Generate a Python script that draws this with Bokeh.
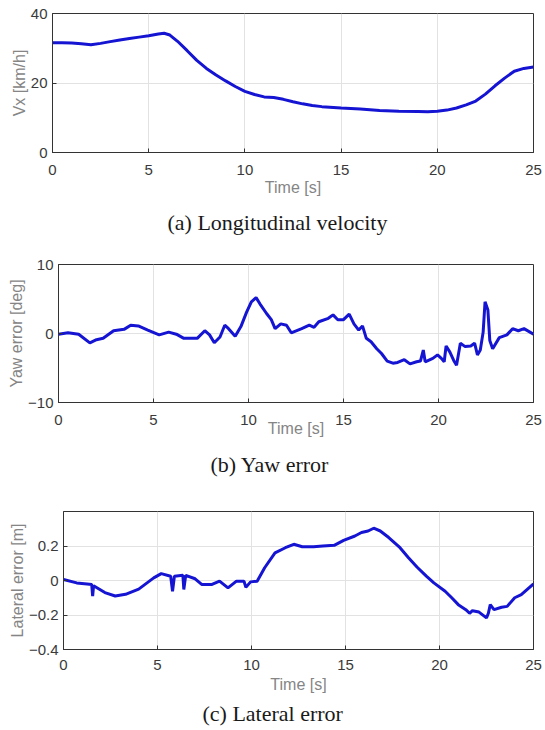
from bokeh.plotting import figure
from bokeh.layouts import column
from bokeh.models import Title, FixedTicker, Range1d
from bokeh.embed import file_html
from bokeh.resources import INLINE

# ---------------- data ----------------
x_ticks = [0, 5, 10, 15, 20, 25]

# (a) Longitudinal velocity [km/h]
t_vx = [0, 0.5, 1, 1.5, 2, 2.5, 3, 3.5, 4, 4.5, 5, 5.5, 5.8, 6.1, 6.5, 7, 7.5, 8,
        8.5, 9, 9.5, 10, 10.5, 11, 11.5, 12, 12.5, 13, 13.5, 14, 15, 16, 17, 18,
        19, 19.5, 20, 20.5, 21, 21.5, 22, 22.5, 23, 23.5, 24, 24.5, 25]
vx = [31.6, 31.6, 31.5, 31.3, 31.0, 31.4, 31.9, 32.4, 32.8, 33.2, 33.6, 34.1,
      34.3, 33.8, 32.0, 29.3, 26.5, 24.2, 22.3, 20.6, 19.0, 17.6, 16.7, 16.0,
      15.8, 15.3, 14.6, 14.0, 13.5, 13.2, 12.8, 12.5, 12.1, 11.9, 11.8, 11.7,
      11.9, 12.2, 12.8, 13.7, 14.8, 16.8, 19.2, 21.4, 23.4, 24.2, 24.6]
vx_ticks = [0, 20, 40]

# (b) Yaw error [deg]
t_yaw = [0, 0.5, 1.06, 1.65, 2.0, 2.35, 2.9, 3.45, 3.8, 4.2, 4.7, 5.3, 5.8, 6.2,
         6.6, 7.3, 7.7, 7.95, 8.2, 8.5, 8.75, 8.95, 9.3, 9.6, 9.9, 10.15, 10.4,
         10.6, 10.95, 11.2, 11.4, 11.7, 12.0, 12.25, 12.8, 13.2, 13.45, 13.7,
         14.2, 14.45, 14.7, 15.0, 15.3, 15.55, 15.8, 16.0, 16.2, 16.45, 16.75,
         17.0, 17.3, 17.6, 17.85, 18.2, 18.5, 18.85, 19.05, 19.2, 19.3, 19.7,
         19.95, 20.15, 20.3, 20.4, 20.6, 20.8, 20.95, 21.15, 21.4, 21.7, 21.9,
         22.05, 22.2, 22.35, 22.45, 22.6, 22.7, 22.85, 23.2, 23.6, 23.9, 24.2,
         24.5, 25.0]
yaw = [-0.1, 0.1, -0.1, -1.35, -0.9, -0.7, 0.4, 0.6, 1.2, 1.1, 0.5, -0.2, 0.2,
       -0.1, -0.7, -0.7, 0.4, -0.2, -1.35, -0.5, 1.2, 0.7, -0.4, 1.0, 3.1, 4.6,
       5.2, 4.3, 2.9, 2.0, 0.7, 1.4, 1.2, 0.1, 0.7, 1.2, 0.9, 1.7, 2.2, 2.7,
       2.0, 2.0, 2.8, 1.4, 0.5, 1.1, -0.7, -1.2, -2.2, -2.9, -4.0, -4.3, -4.2,
       -3.8, -4.4, -4.1, -4.0, -2.4, -4.1, -3.6, -3.1, -3.6, -4.1, -1.8, -2.7,
       -3.9, -4.6, -1.4, -1.9, -1.8, -1.4, -3.1, -2.4, 0.2, 4.6, 3.4, -1.0,
       -2.2, -0.6, -0.2, 0.7, 0.4, 0.7, -0.1]
yaw_ticks = [-10, 0, 10]

# (c) Lateral error [m]
t_lat = [0, 0.7, 1.25, 1.5, 1.55, 1.6, 2.2, 2.75, 3.3, 4.0, 4.8, 5.2, 5.7, 5.8,
         5.9, 6.35, 6.4, 6.5, 7.0, 7.35, 7.9, 8.3, 8.75, 9.2, 9.6, 9.7, 9.95,
         10.3, 10.7, 11.25, 11.8, 12.25, 12.7, 13.3, 13.8, 14.4, 14.9, 15.5,
         15.85, 16.2, 16.5, 16.85, 17.3, 17.9, 18.35, 18.8, 19.3, 19.7, 20.3,
         20.65, 21.0, 21.4, 21.6, 21.75, 22.1, 22.5, 22.6, 22.7, 22.9, 23.3,
         23.6, 24.0, 24.35, 25.0]
lat = [0.006, -0.014, -0.02, -0.023, -0.09, -0.03, -0.07, -0.09, -0.08, -0.05,
       0.015, 0.04, 0.025, -0.062, 0.025, 0.03, -0.052, 0.03, 0.01, -0.023,
       -0.023, -0.004, -0.043, -0.004, -0.004, -0.04, -0.008, -0.004, 0.074,
       0.16, 0.19, 0.21, 0.196, 0.196, 0.2, 0.204, 0.233, 0.258, 0.278, 0.287,
       0.303, 0.287, 0.249, 0.19, 0.132, 0.078, 0.025, -0.014, -0.062, -0.1,
       -0.14, -0.169, -0.19, -0.175, -0.183, -0.217, -0.19, -0.14, -0.169,
       -0.155, -0.15, -0.10, -0.082, -0.02]
lat_ticks = [-0.4, -0.2, 0, 0.2]

# ---------------- styling ----------------
LINE = "#1414d2"
TICK_COL = "#3a3a3a"
LABEL_COL = "#858585"
GRID_COL = "#e2e2e2"
FRAME_COL = "#333333"


def panel(t, y, ylo, yhi, yticks, ylabel, caption, cap_offset,
          fw, fh, bl, bt, bb, xt_standoff, xl_standoff, cap_standoff):
    p = figure(frame_width=fw, frame_height=fh,
               x_range=Range1d(0, 25), y_range=Range1d(ylo, yhi),
               output_backend="svg", toolbar_location=None,
               min_border_left=bl, min_border_right=12,
               min_border_top=bt, min_border_bottom=bb,
               outline_line_color=FRAME_COL, outline_line_width=1,
               frame_align=False)
    p.line(t, y, line_color=LINE, line_width=3)
    xt = FixedTicker(ticks=x_ticks)
    yt = FixedTicker(ticks=yticks)
    p.xaxis.ticker = xt
    p.yaxis.ticker = yt
    p.xgrid.ticker = xt
    p.ygrid.ticker = yt
    p.grid.grid_line_color = GRID_COL
    p.grid.grid_line_width = 1
    for ax in (p.xaxis[0], p.yaxis[0]):
        ax.major_tick_in = 4
        ax.major_tick_out = 0
        ax.minor_tick_line_color = None
        ax.major_tick_line_color = FRAME_COL
        ax.axis_line_color = FRAME_COL
        ax.major_label_text_font = "Liberation Sans"
        ax.major_label_text_font_size = "15px"
        ax.major_label_text_color = TICK_COL
        ax.axis_label_text_font = "Liberation Sans"
        ax.axis_label_text_font_style = "normal"
        ax.axis_label_text_color = LABEL_COL
        ax.axis_label_text_font_size = "16px"
    p.xaxis.major_label_standoff = xt_standoff
    p.xaxis.axis_label = "Time [s]"
    p.xaxis.axis_label_standoff = xl_standoff
    p.yaxis.major_label_standoff = 5
    p.yaxis.axis_label = ylabel
    p.yaxis.axis_label_standoff = 0
    cap = Title(text=caption, align="left", offset=cap_offset,
                text_font="Liberation Serif", text_font_size="22px",
                text_font_style="normal", text_color="#1a1a1a",
                standoff=cap_standoff)
    p.add_layout(cap, "below")
    return p


p1 = panel(t_vx, vx, 0, 40, vx_ticks, "Vx [km/h]",
           "(a) Longitudinal velocity", 167 - 52,
           481, 139, 52, 13, 97, 12, 1, 19)
p2 = panel(t_yaw, yaw, -10, 10, yaw_ticks, "Yaw error [deg]",
           "(b) Yaw error", 210 - 58,
           475, 138, 58, 15, 95, 12, -8, 20)
p3 = panel(t_lat, lat, -0.4, 0.4, lat_ticks, "Lateral error [m]",
           "(c) Lateral error", 202 - 63,
           470, 138, 63, 14, 81, 10, 3, 7)

layout = column(p1, p2, p3, spacing=0)
open("out.html", "w").write(file_html(layout, INLINE))
